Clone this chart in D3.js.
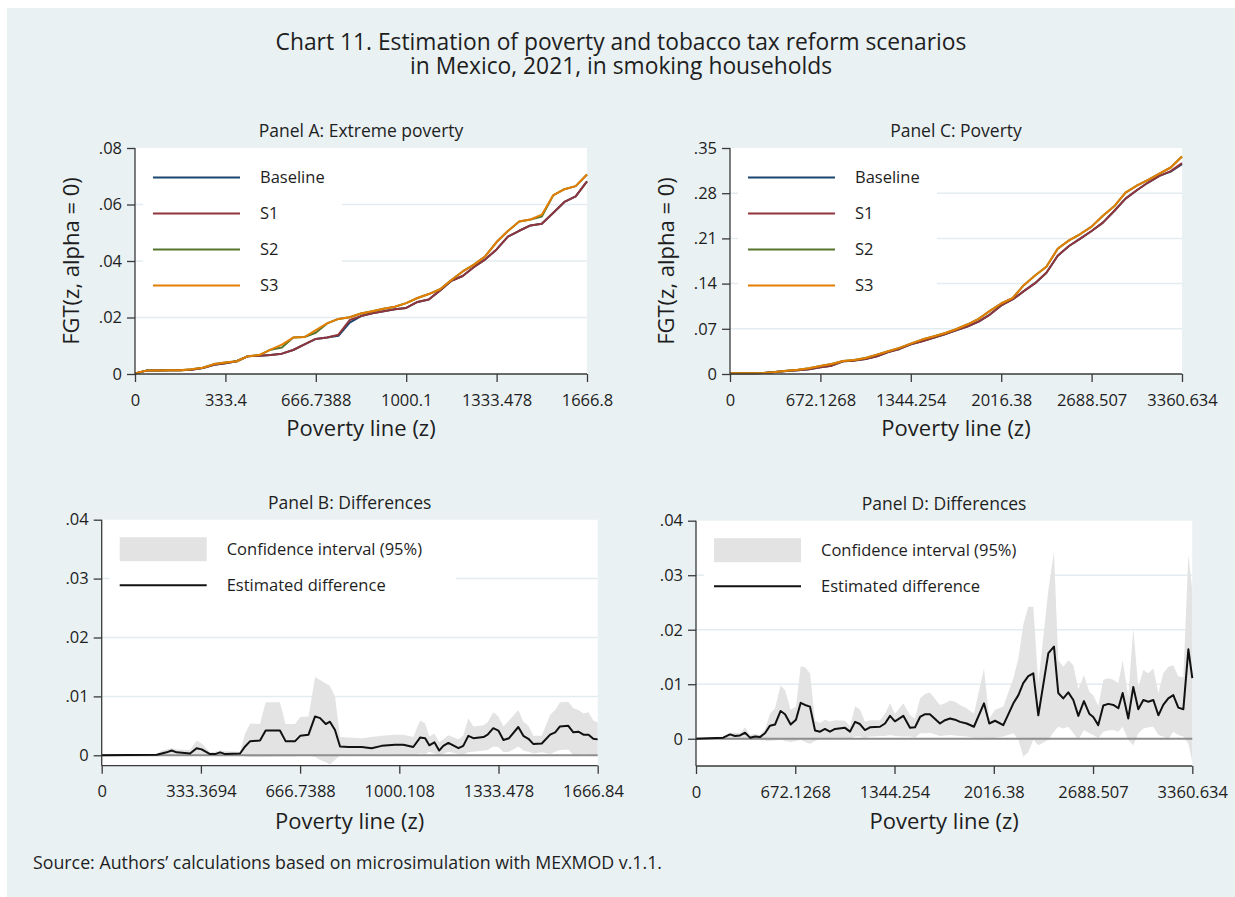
<!DOCTYPE html>
<html>
<head>
<meta charset="utf-8">
<script src="https://cdn.jsdelivr.net/npm/d3@7"></script>
<style>
  body { margin: 0; background: #ffffff; }
  text { font-family: "Open Sans", Lato, sans-serif; fill: #1e1e1e; }
</style>
</head>
<body>
<div id="chart"></div>
<script>
// ---- data ----
var xA = [0, 41.7, 83.3, 125.0, 166.7, 208.4, 250.0, 291.7, 333.4, 375.0, 416.7, 458.4, 500.0, 541.7, 583.4, 625.1, 666.7, 708.4, 750.1, 791.7, 833.4, 875.1, 916.7, 958.4, 1000.1, 1041.8, 1083.4, 1125.1, 1166.8, 1208.4, 1250.1, 1291.8, 1333.4, 1375.1, 1416.8, 1458.5, 1500.1, 1541.8, 1583.5, 1625.1, 1666.8];
var baselineA = [.0002, .0012, .0012, .0013, .0013, .0015, .0021, .0033, .0038, .0045, .0063, .0065, .0067, .0072, .0085, .0105, .0124, .0129, .0135, .0182, .0205, .0215, .0222, .0229, .0234, .0255, .0264, .0296, .0330, .0347, .0379, .0406, .0441, .0486, .0507, .0526, .0532, .0570, .0609, .0629, .0682];
var s1A = [.0002, .0012, .0012, .0013, .0013, .0015, .0021, .0033, .0038, .0045, .0063, .0065, .0067, .0072, .0085, .0105, .0124, .0129, .0139, .0191, .0205, .0215, .0222, .0229, .0234, .0255, .0264, .0296, .0330, .0347, .0379, .0406, .0441, .0486, .0507, .0526, .0532, .0570, .0609, .0629, .0682];
var s2A = [.0002, .0012, .0012, .0013, .0013, .0017, .0022, .0035, .0041, .0045, .0063, .0067, .0086, .0094, .0129, .0131, .0146, .0179, .0195, .0201, .0214, .0222, .0231, .0238, .0251, .0269, .0283, .0300, .0333, .0363, .0387, .0417, .0467, .0506, .0540, .0547, .0557, .0632, .0654, .0665, .0706];
var s3A = [.0002, .0012, .0012, .0013, .0013, .0017, .0022, .0035, .0041, .0045, .0063, .0067, .0086, .0104, .0129, .0131, .0155, .0179, .0195, .0201, .0214, .0222, .0231, .0238, .0251, .0269, .0283, .0300, .0333, .0363, .0387, .0417, .0467, .0506, .0540, .0547, .0564, .0632, .0654, .0665, .0706];

var xC = [0, 84.0, 168.0, 252.0, 336.1, 420.1, 504.1, 588.1, 672.1, 756.1, 840.2, 924.2, 1008.2, 1092.2, 1176.2, 1260.2, 1344.3, 1428.3, 1512.3, 1596.3, 1680.3, 1764.3, 1848.3, 1932.4, 2016.4, 2100.4, 2184.4, 2268.4, 2352.4, 2436.5, 2520.5, 2604.5, 2688.5, 2772.5, 2856.5, 2940.6, 3024.6, 3108.6, 3192.6, 3276.6, 3360.6];
var baselineC = [.0010, .0010, .0010, .0016, .0031, .0047, .0057, .0072, .0103, .0129, .0197, .0207, .0233, .0274, .0341, .0388, .0460, .0507, .0559, .0616, .0678, .0735, .0812, .0921, .1061, .1154, .1283, .1407, .1568, .1832, .1982, .2096, .2214, .2344, .2525, .2716, .2846, .2965, .3068, .3135, .3250];
var s1C = [.0010, .0010, .0010, .0016, .0031, .0047, .0057, .0072, .0103, .0129, .0197, .0207, .0233, .0274, .0341, .0388, .0460, .0507, .0559, .0616, .0678, .0735, .0812, .0921, .1061, .1154, .1283, .1407, .1568, .1832, .1982, .2096, .2214, .2344, .2525, .2716, .2846, .2965, .3068, .3141, .3265];
var s2C = [.0010, .0010, .0010, .0016, .0031, .0052, .0067, .0088, .0124, .0155, .0202, .0217, .0248, .0300, .0352, .0404, .0471, .0533, .0580, .0631, .0693, .0766, .0854, .0978, .1092, .1174, .1376, .1526, .1661, .1940, .2070, .2168, .2282, .2452, .2597, .2809, .2918, .3006, .3104, .3198, .3368];
var s3C = [.0010, .0010, .0010, .0016, .0031, .0052, .0067, .0088, .0124, .0155, .0202, .0217, .0248, .0300, .0352, .0404, .0471, .0533, .0580, .0631, .0693, .0766, .0854, .0978, .1092, .1174, .1376, .1526, .1661, .1940, .2070, .2168, .2282, .2452, .2597, .2809, .2918, .3006, .3104, .3198, .3368];

var xB = [0, 185, 202, 218, 235, 252, 297, 319, 336, 364, 381, 398, 415, 465, 482, 499, 532, 551, 599, 618, 650, 667, 695, 717, 734, 753, 767, 784, 801, 829, 874, 907, 941, 986, 1014, 1047, 1070, 1087, 1101, 1118, 1134, 1148, 1165, 1199, 1215, 1232, 1249, 1283, 1297, 1316, 1333, 1350, 1369, 1400, 1417, 1434, 1451, 1479, 1507, 1524, 1540, 1568, 1585, 1602, 1619, 1636, 1652, 1666.8];
var diffB = [0, .0001, .0003, .0005, .0008, .0005, .0003, .0012, .0010, .0002, .0002, .0005, .0002, .0003, .0015, .0024, .0025, .0042, .0042, .0024, .0024, .0033, .0035, .0066, .0063, .0053, .0057, .0043, .0015, .0014, .0014, .0012, .0016, .0018, .0018, .0014, .0030, .0029, .0017, .0022, .0008, .0016, .0021, .0012, .0016, .0033, .0029, .0031, .0035, .0046, .0042, .0026, .0029, .0048, .0033, .0028, .0019, .0020, .0035, .0039, .0049, .0050, .0039, .0040, .0035, .0035, .0028, .0027];
var hiB = [.0001, .0002, .0008, .0010, .0012, .0010, .0009, .0025, .0020, .0005, .0006, .0008, .0007, .0006, .0037, .0054, .0053, .0090, .0090, .0053, .0053, .0065, .0066, .0133, .0128, .0122, .0118, .0100, .0031, .0030, .0029, .0031, .0033, .0035, .0035, .0031, .0059, .0054, .0032, .0037, .0022, .0027, .0034, .0027, .0033, .0063, .0049, .0051, .0056, .0073, .0066, .0049, .0059, .0077, .0057, .0050, .0033, .0033, .0069, .0077, .0090, .0091, .0080, .0077, .0071, .0073, .0059, .0056];
var loB = [-.0001, -.0001, 0, 0, 0, 0, 0, 0, 0, 0, 0, 0, 0, 0, -.0002, -.0003, -.0003, -.0003, -.0002, -.0002, -.0002, -.0001, -.0001, -.0003, -.0008, -.0012, -.0016, -.0008, 0, .0001, .0001, .0001, .0002, .0001, .0001, .0001, .0003, .0002, .0006, .0003, 0, .0002, .0006, .0002, .0001, .0005, .0006, .0008, .0009, .0015, .0014, .0005, .0006, .0015, .0008, .0006, .0003, .0005, .0002, .0006, .0009, .0010, 0, 0, .0002, .0001, 0, 0];

var xD = [0, 185, 230, 264, 298, 332, 366, 400, 433, 467, 501, 535, 573, 603, 641, 677, 709, 738, 772, 806, 840, 873, 907, 941, 1009, 1043, 1077, 1110, 1144, 1178, 1246, 1280, 1314, 1347, 1404, 1449, 1483, 1517, 1551, 1584, 1652, 1686, 1720, 1754, 1788, 1833, 1882, 1950, 1986, 2025, 2081, 2149, 2183, 2216, 2250, 2284, 2318, 2386, 2424, 2453, 2487, 2521, 2555, 2589, 2627, 2663, 2690, 2724, 2758, 2792, 2826, 2860, 2889, 2927, 2961, 2995, 3029, 3063, 3097, 3131, 3164, 3198, 3232, 3266, 3300, 3334, 3360.6];
var diffD = [0, .0002, .0008, .0005, .0006, .0011, .0002, .0004, .0003, .0010, .0024, .0026, .0051, .0045, .0026, .0035, .0066, .0062, .0059, .0015, .0013, .0018, .0013, .0018, .0020, .0013, .0031, .0027, .0016, .0021, .0022, .0028, .0042, .0032, .0042, .0020, .0021, .0040, .0045, .0045, .0028, .0034, .0037, .0035, .0031, .0028, .0022, .0065, .0028, .0033, .0025, .0065, .0080, .0102, .0115, .0120, .0043, .0157, .0169, .0084, .0074, .0085, .0071, .0042, .0069, .0046, .0040, .0025, .0061, .0064, .0062, .0056, .0084, .0037, .0095, .0054, .0071, .0068, .0071, .0043, .0062, .0074, .0080, .0057, .0054, .0164, .0111];
var hiD = [.0001, .0004, .0011, .0011, .0010, .0021, .0007, .0009, .0007, .0017, .0046, .0056, .0098, .0089, .0053, .0059, .0133, .0131, .0120, .0033, .0029, .0035, .0031, .0034, .0033, .0023, .0059, .0054, .0031, .0034, .0034, .0046, .0065, .0046, .0065, .0043, .0037, .0074, .0082, .0085, .0062, .0065, .0070, .0068, .0062, .0056, .0046, .0129, .0037, .0053, .0059, .0111, .0147, .0209, .0242, .0242, .0102, .0273, .0343, .0144, .0132, .0144, .0135, .0091, .0117, .0086, .0080, .0060, .0108, .0111, .0108, .0102, .0144, .0077, .0202, .0095, .0126, .0120, .0129, .0083, .0120, .0132, .0135, .0114, .0113, .0337, .0273];
var loD = [-.0001, -.0001, -.0002, -.0002, -.0002, -.0002, -.0002, -.0002, -.0002, -.0003, -.0004, -.0003, -.0002, -.0004, -.0006, -.0004, -.0002, -.0006, -.0009, -.0004, -.0001, 0, -.0001, 0, 0, -.0001, .0004, .0004, .0001, .0004, .0005, .0005, .0007, .0005, .0004, .0004, .0002, .0010, .0010, .0011, .0005, .0006, .0007, .0006, .0005, .0004, .0002, .0002, .0001, .0002, .0004, .0010, -.0002, -.0033, -.0025, -.0002, -.0012, -.0002, .0013, .0022, .0019, .0022, .0010, -.0002, .0016, .0010, .0007, .0001, .0013, .0015, .0016, .0013, .0022, -.0002, -.0012, .0010, .0019, .0021, .0022, .0007, .0004, -.0002, .0013, .0007, .0004, -.0009, -.0042];

// tick values / labels
var xTicksA = ["0", "333.4", "666.7388", "1000.1", "1333.478", "1666.8"];
var xTicksB = ["0", "333.3694", "666.7388", "1000.108", "1333.478", "1666.847"];
var xTicksC = ["0", "672.1268", "1344.254", "2016.38", "2688.507", "3360.634"];
var yTicksA = [0, .02, .04, .06, .08];
var yTicksC = [0, .07, .14, .21, .28, .35];
var yTicksDiff = [0, .01, .02, .03, .04];

var seriesNames = ["Baseline", "S1", "S2", "S3"];
var seriesColors = ["#1a476f", "#90353b", "#55752f", "#e37e00"];

var titleLines = ["Chart 11. Estimation of poverty and tobacco tax reform scenarios",
    "in Mexico, 2021, in smoking households"];

// ---- canvas ----
var W = 1235, H = 897;
var svg = d3.select("#chart").append("svg").attr("width", W).attr("height", H);
svg.append("rect").attr("x", 7).attr("y", 8).attr("width", W - 7).attr("height", H - 8).attr("fill", "#e9f1f3");

// two-line title kept in one text element
svg.append("text").attr("x", 621).attr("y", 50).attr("text-anchor", "middle").style("font-size", "22.8px")
    .selectAll("tspan").data(titleLines).enter().append("tspan")
    .attr("x", 621).attr("dy", function (d, i) { return i === 0 ? 0 : 24; })
    .text(function (d) { return d; });

svg.append("text").attr("x", 33).attr("y", 869).style("font-size", "17.8px")
    .text("Source: Authors\u2019 calculations based on microsimulation with MEXMOD v.1.1.");

var gridColor = "#e3ecef";
var axisColor = "#3a3a3a";
var tickFont = "16.5px";

function yFmt(d) {
    return d === 0 ? "0" : d3.format(".2f")(d).replace(/^0/, "");
}

// common frame: plot area, grid, titles
function frame(p) {
    var g = svg.append("g");
    if (p.clip) {
        svg.append("clipPath").attr("id", p.clip.id).append("rect")
            .attr("x", p.clip.x0).attr("y", 0).attr("width", p.clip.x1 - p.clip.x0).attr("height", H);
        g.attr("clip-path", "url(#" + p.clip.id + ")");
    }
    var x = d3.scaleLinear().domain(p.xDomain).range([p.left, p.right]);
    var y = d3.scaleLinear().domain(p.yDomain).range([p.bottom, p.top]);

    g.append("rect").attr("x", p.left).attr("y", p.top)
        .attr("width", p.right - p.left).attr("height", p.bottom - p.top).attr("fill", "#ffffff");

    g.append("g").selectAll("line").data(p.grid).enter().append("line")
        .attr("x1", p.left).attr("x2", p.right)
        .attr("y1", function (d) { return y(d); }).attr("y2", function (d) { return y(d); })
        .attr("stroke", gridColor).attr("stroke-width", 1.5);

    // legend box hides the grid behind it
    g.append("rect").attr("x", p.left + 8).attr("y", p.top + 8)
        .attr("width", p.legendW).attr("height", p.legendH).attr("fill", "#ffffff");

    g.append("text").attr("x", (p.left + p.right) / 2).attr("y", p.top - 11)
        .attr("text-anchor", "middle").style("font-size", "17.5px").text(p.title);

    g.append("text").attr("x", (p.left + p.right) / 2).attr("y", p.xTitleY)
        .attr("text-anchor", "middle").style("font-size", "22px").text("Poverty line (z)");

    if (p.yTitle) {
        g.append("text")
            .attr("transform", "translate(" + (p.left - 56) + "," + ((p.top + p.bottom) / 2) + ") rotate(-90)")
            .attr("text-anchor", "middle").style("font-size", "22px").text(p.yTitle);
    }
    return { g: g, x: x, y: y };
}

function axes(f, p) {
    var xa = f.g.append("g").attr("transform", "translate(0," + p.bottom + ")")
        .call(d3.axisBottom(f.x).tickValues(p.xTicks.map(Number)).tickSize(8).tickPadding(12)
            .tickFormat(function (d, i) { return p.xTicks[i]; }));
    var ya = f.g.append("g").attr("transform", "translate(" + p.left + ",0)")
        .call(d3.axisLeft(f.y).tickValues(p.yTicks).tickSize(8).tickPadding(5).tickFormat(yFmt));
    [xa, ya].forEach(function (a) {
        a.selectAll("path, line").attr("stroke", axisColor).attr("stroke-width", 1.3);
        a.selectAll("text").style("font-size", tickFont).attr("fill", "#1e1e1e")
            .style("font-family", "'Open Sans', Lato, sans-serif");
    });
    ya.select(".domain").attr("d", "M0," + p.top + "V" + p.bottom);
    xa.select(".domain").attr("d", "M" + p.left + ",0H" + p.right);
}

function legendRow(f, p, i, label) {
    var yy = p.top + 29.5 + i * 36;
    f.g.append("text").attr("x", p.left + 125).attr("y", yy).attr("dy", "0.35em")
        .style("font-size", "16.5px").text(label);
    return yy;
}

function drawFGT(p, xs, ys) {
    var f = frame(p);
    var line = d3.line()
        .x(function (d, i) { return f.x(xs[i]); })
        .y(function (d) { return f.y(d); });
    ys.forEach(function (s, k) {
        f.g.append("path").attr("d", line(s)).attr("fill", "none")
            .attr("stroke", seriesColors[k]).attr("stroke-width", 2).attr("stroke-linejoin", "round");
    });
    seriesNames.forEach(function (name, k) {
        var yy = legendRow(f, p, k, name);
        f.g.append("line").attr("x1", p.left + 18).attr("x2", p.left + 105)
            .attr("y1", yy).attr("y2", yy).attr("stroke", seriesColors[k]).attr("stroke-width", 2);
    });
    axes(f, p);
}

function drawDiff(p, xs, diff, lo, hi) {
    var f = frame(p);
    var area = d3.area()
        .x(function (d, i) { return f.x(xs[i]); })
        .y0(function (d, i) { return f.y(lo[i]); })
        .y1(function (d, i) { return f.y(hi[i]); });
    f.g.append("path").attr("d", area(diff)).attr("fill", "#e3e3e3");
    f.g.append("line").attr("x1", p.left).attr("x2", p.right)
        .attr("y1", f.y(0)).attr("y2", f.y(0)).attr("stroke", "#8e8e8e").attr("stroke-width", 2);
    var line = d3.line()
        .x(function (d, i) { return f.x(xs[i]); })
        .y(function (d) { return f.y(d); });
    f.g.append("path").attr("d", line(diff)).attr("fill", "none")
        .attr("stroke", "#111111").attr("stroke-width", 2).attr("stroke-linejoin", "round");

    var y0 = legendRow(f, p, 0, "Confidence interval (95%)");
    f.g.append("rect").attr("x", p.left + 18).attr("y", y0 - 12).attr("width", 87).attr("height", 24)
        .attr("fill", "#e3e3e3");
    var y1 = legendRow(f, p, 1, "Estimated difference");
    f.g.append("line").attr("x1", p.left + 18).attr("x2", p.left + 105)
        .attr("y1", y1).attr("y2", y1).attr("stroke", "#111111").attr("stroke-width", 2);
    axes(f, p);
}

drawFGT({
    title: "Panel A: Extreme poverty", yTitle: "FGT(z, alpha = 0)",
    left: 135, right: 587, top: 148, bottom: 374, xTitleY: 436,
    xDomain: [0, 1666.8], yDomain: [0, .08], grid: [.02, .04, .06],
    xTicks: xTicksA, yTicks: yTicksA, legendW: 199, legendH: 150
}, xA, [baselineA, s1A, s2A, s3A]);

drawFGT({
    title: "Panel C: Poverty", yTitle: "FGT(z, alpha = 0)",
    left: 730, right: 1182, top: 148, bottom: 374, xTitleY: 436,
    xDomain: [0, 3360.634], yDomain: [0, .35], grid: [.07, .14, .21, .28],
    xTicks: xTicksC, yTicks: yTicksC, legendW: 199, legendH: 150
}, xC, [baselineC, s1C, s2C, s3C]);

drawDiff({
    title: "Panel B: Differences",
    left: 101.7, right: 597.7, top: 519.7, bottom: 765.7, xTitleY: 829,
    xDomain: [0, 1666.847], yDomain: [-.00177, .04], grid: [.01, .02, .03],
    xTicks: xTicksB, yTicks: yTicksDiff, legendW: 346, legendH: 80,
    clip: { id: "clipB", x0: 0, x1: 624 }
}, xB, diffB, loB, hiB);

drawDiff({
    title: "Panel D: Differences",
    left: 696, right: 1192.3, top: 520.7, bottom: 766, xTitleY: 829,
    xDomain: [0, 3360.634], yDomain: [-.005, .04], grid: [.01, .02, .03],
    xTicks: xTicksC, yTicks: yTicksDiff, legendW: 346, legendH: 80
}, xD, diffD, loD, hiD);
</script>
</body>
</html>
